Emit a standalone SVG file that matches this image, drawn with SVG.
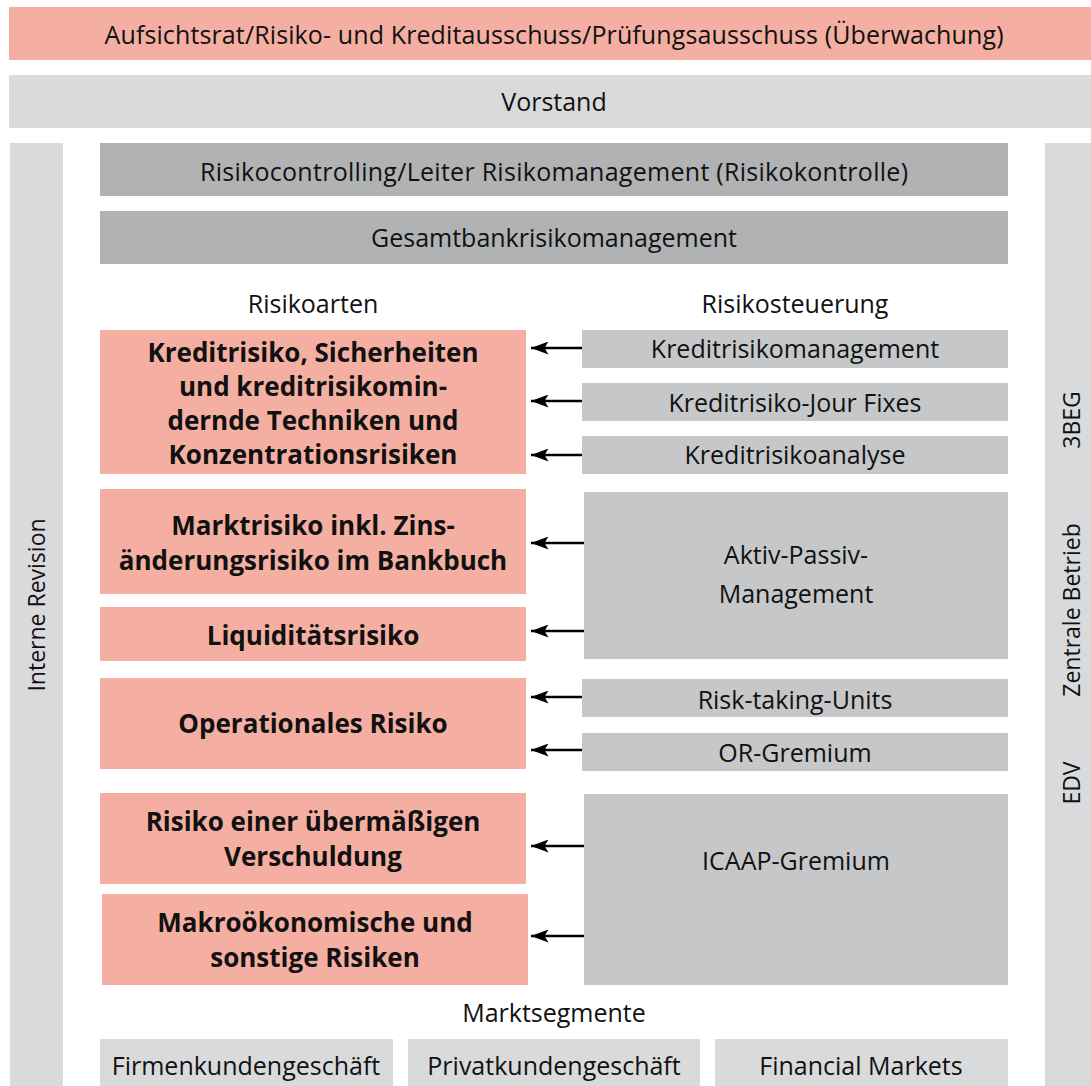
<svg xmlns="http://www.w3.org/2000/svg" width="1091" height="1086" viewBox="0 0 1091 1086">
<defs>
<style>
.red{fill:#F4AFA2}
.lg{fill:#D9DADC}
.mg{fill:#C6C7C9}
.dg{fill:#B1B2B4}
text{font-family:"Open Sans",Lato,sans-serif;fill:#111;text-anchor:middle}
.t{font-size:25px}
.r{font-size:23px}
.b{font-size:26px;font-weight:bold}
.arrow{stroke:#000;stroke-width:2.5;fill:none;marker-end:url(#ah)}
</style>
<marker id="ah" markerWidth="7" markerHeight="5.2" refX="7" refY="2.6" orient="auto" markerUnits="strokeWidth" viewBox="0 0 7 5.2">
<path d="M0,0 L7,2.6 L0,5.2 L1.6,2.6 Z" fill="#000"/>
</marker>
</defs>
<rect width="1091" height="1086" fill="#fff"/>

<g id="aufsichtsrat"><rect class="red" x="9" y="7" width="1082" height="53"/><text class="t" x="554" y="44" textLength="899">Aufsichtsrat/Risiko- und Kreditausschuss/Prüfungsausschuss (Überwachung)</text></g>
<g id="vorstand"><rect class="lg" x="9" y="75" width="1082" height="53"/><text class="t" x="554" y="111">Vorstand</text></g>
<g id="interne-revision"><rect class="lg" x="10" y="143" width="53" height="943"/><text class="r" transform="translate(45 605) rotate(-90)">Interne Revision</text></g>
<g id="edv"><rect class="lg" x="1045" y="143" width="46" height="943"/>
<text class="r" transform="translate(1080 420) rotate(-90)">3BEG</text>
<text class="r" transform="translate(1080 610) rotate(-90)">Zentrale Betrieb</text>
<text class="r" transform="translate(1080 783) rotate(-90)">EDV</text></g>
<g id="risikocontrolling"><rect class="dg" x="100" y="143" width="908" height="53"/><text class="t" x="554" y="181" textLength="708">Risikocontrolling/Leiter Risikomanagement (Risikokontrolle)</text></g>
<g id="gesamtbank"><rect class="dg" x="100" y="211" width="908" height="53"/><text class="t" x="554" y="247">Gesamtbankrisikomanagement</text></g>

<g id="risikoarten"><text class="t" x="313" y="313">Risikoarten</text></g>
<g id="risikosteuerung"><text class="t" x="795" y="313">Risikosteuerung</text></g>

<g id="kreditrisiko"><rect class="red" x="100" y="330" width="426" height="144"/>
<text class="b" x="313" y="362">Kreditrisiko, Sicherheiten</text>
<text class="b" x="313" y="396">und kreditrisikomin-</text>
<text class="b" x="313" y="430">dernde Techniken und</text>
<text class="b" x="313" y="464">Konzentrationsrisiken</text></g>
<g id="marktrisiko"><rect class="red" x="100" y="489" width="426" height="105"/>
<text class="b" x="313" y="535">Marktrisiko inkl. Zins-</text>
<text class="b" x="313" y="570">änderungsrisiko im Bankbuch</text></g>
<g id="liquiditaet"><rect class="red" x="100" y="607" width="426" height="54"/><text class="b" x="313" y="645">Liquiditätsrisiko</text></g>
<g id="operationales"><rect class="red" x="100" y="678" width="426" height="91"/><text class="b" x="313" y="733">Operationales Risiko</text></g>
<g id="verschuldung"><rect class="red" x="100" y="793" width="426" height="91"/>
<text class="b" x="313" y="831">Risiko einer übermäßigen</text>
<text class="b" x="313" y="866">Verschuldung</text></g>
<g id="makro"><rect class="red" x="102" y="894" width="426" height="91"/>
<text class="b" x="315" y="932">Makroökonomische und</text>
<text class="b" x="315" y="967">sonstige Risiken</text></g>

<g id="kreditrisikomanagement"><rect class="mg" x="582" y="330" width="426" height="38"/><text class="t" x="795" y="358">Kreditrisikomanagement</text></g>
<g id="jourfixes"><rect class="mg" x="582" y="383" width="426" height="38"/><text class="t" x="795" y="412">Kreditrisiko-Jour Fixes</text></g>
<g id="kreditrisikoanalyse"><rect class="mg" x="582" y="436" width="426" height="38"/><text class="t" x="795" y="464">Kreditrisikoanalyse</text></g>
<g id="aktivpassiv"><rect class="mg" x="584" y="492" width="424" height="167"/>
<text class="t" x="796" y="564">Aktiv-Passiv-</text>
<text class="t" x="796" y="603">Management</text></g>
<g id="risktaking"><rect class="mg" x="582" y="679" width="426" height="38"/><text class="t" x="795" y="709">Risk-taking-Units</text></g>
<g id="orgremium"><rect class="mg" x="582" y="733" width="426" height="38"/><text class="t" x="795" y="762">OR-Gremium</text></g>
<g id="icaap"><rect class="mg" x="584" y="794" width="424" height="191"/><text class="t" x="796" y="870">ICAAP-Gremium</text></g>

<g id="marktsegmente"><text class="t" x="554" y="1022">Marktsegmente</text></g>
<g id="firmenkunden"><rect class="lg" x="100" y="1039" width="293" height="47"/><text class="t" x="246" y="1075">Firmenkundengeschäft</text></g>
<g id="privatkunden"><rect class="lg" x="408" y="1039" width="292" height="47"/><text class="t" x="554" y="1075">Privatkundengeschäft</text></g>
<g id="financial"><rect class="lg" x="715" y="1039" width="293" height="47"/><text class="t" x="861" y="1075">Financial Markets</text></g>

<g id="connectors">
<line class="arrow" x1="582" y1="348" x2="531" y2="348"/>
<line class="arrow" x1="582" y1="401" x2="531" y2="401"/>
<line class="arrow" x1="582" y1="455" x2="531" y2="455"/>
<line class="arrow" x1="584" y1="543" x2="531" y2="543"/>
<line class="arrow" x1="584" y1="631" x2="531" y2="631"/>
<line class="arrow" x1="582" y1="697" x2="531" y2="697"/>
<line class="arrow" x1="582" y1="750" x2="531" y2="750"/>
<line class="arrow" x1="584" y1="846" x2="531" y2="846"/>
<line class="arrow" x1="584" y1="936" x2="531" y2="936"/>
</g>
</svg>
